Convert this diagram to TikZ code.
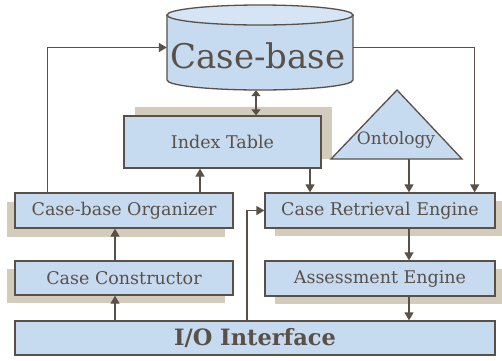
\documentclass[tikz,border=0pt]{standalone}
\usepackage{fontspec}
\setmainfont{DejaVu Serif}
\usetikzlibrary{arrows.meta,calc}
\definecolor{boxfill}{HTML}{C6DBF0}
\definecolor{topfill}{HTML}{D6E5F5}
\definecolor{shade}{HTML}{D3CBBB}
\definecolor{ink}{HTML}{5A5048}
\tikzset{
  box/.style={draw=ink, line width=1.3pt, fill=boxfill, text=ink, inner sep=0pt, font=\fontsize{17.5}{19}\selectfont},
  shadowbox/.style={preaction={fill=shade, transform canvas={shift={#1}}}},
  conn/.style={draw=ink, line width=1.3pt},
  arr/.style={conn, -{Triangle[width=9pt,length=8pt]}},
  darr/.style={conn, {Triangle[width=9pt,length=6pt]}-{Triangle[width=9pt,length=6pt]}},
}
\begin{document}
\begin{tikzpicture}[x=1pt,y=-1pt]
\useasboundingbox[fill=white] (0,0) rectangle (502,360);

% case-base cylinder
\node[inner sep=0pt, minimum width=186pt, minimum height=85pt] (cb) at (260,47.5) {};
\filldraw[draw=ink, line width=1.3pt, fill=boxfill]
  (167,15) -- (167,80) arc[start angle=180, end angle=360, x radius=93, y radius=-10] -- (353,15) -- cycle;
\filldraw[draw=ink, line width=1.3pt, fill=topfill] (260,15) ellipse[x radius=93, y radius=10];
\node[text=ink, font=\fontsize{34}{36}\selectfont] (cbtext) at (258,56) {Case-base};

% boxes
\node[box, shadowbox={(11pt,9pt)}, minimum width=197pt, minimum height=52pt] (it) at (222.5,142) {Index Table};
\node[box, shadowbox={(-8pt,-9pt)}, minimum width=218pt, minimum height=35pt] (org) at (124,210.5) {Case-base Organizer};
\node[box, shadowbox={(-8pt,-8pt)}, minimum width=218pt, minimum height=34pt] (con) at (124,278) {Case Constructor};
\node[box, shadowbox={(10pt,-8pt)}, minimum width=230pt, minimum height=35pt] (cre) at (380,210.5) {Case Retrieval Engine};
\node[box, shadowbox={(10pt,-8pt)}, minimum width=230pt, minimum height=35pt] (ass) at (380,278.5) {Assessment Engine};
\node[box, minimum width=480pt, minimum height=34pt, font=\fontsize{22.5}{24}\selectfont\bfseries] (io) at (255,338) {I/O Interface};

% ontology triangle
\filldraw[draw=ink, line width=1.3pt, fill=boxfill] (397,90) -- (462,159) -- (331,159) -- cycle;
\node[text=ink, font=\fontsize{17}{19}\selectfont] (onto) at (396,140) {Ontology};
\coordinate (ontob) at (409,159);

% connectors
\draw[arr] ([xshift=33pt]org.north west) |- (cb.west);
\draw[arr] (cb.east) -| ([xshift=-21pt]cre.north east);
\draw[darr] ([xshift=-4pt]cb.south) -- ([xshift=-4pt]cb.south |- it.north);
\draw[arr] ([xshift=87.5pt]it.south) -- ([xshift=87.5pt]it.south |- cre.north);
\draw[arr] (ontob) -- (ontob |- cre.north);
\draw[arr] ([xshift=76pt]org.north) -- ([xshift=76pt]org.north |- it.south);
\draw[arr] ([xshift=-9pt]con.north) -- ([xshift=-9pt]con.north |- org.south);
\draw[arr] ([xshift=-140pt]io.north) -- ([xshift=-140pt]io.north |- con.south);
\draw[arr] ([xshift=-8pt]io.north) |- (cre.west);
\draw[arr] ([xshift=29pt]cre.south) -- ([xshift=29pt]cre.south |- ass.north);
\draw[arr] ([xshift=29pt]ass.south) -- ([xshift=29pt]ass.south |- io.north);
\end{tikzpicture}
\end{document}
